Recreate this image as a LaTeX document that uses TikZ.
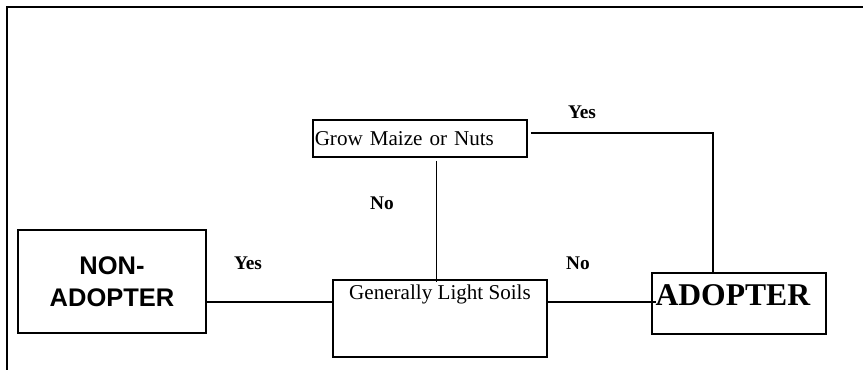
\documentclass[tikz,border=0pt]{standalone}
\usepackage{fontspec}
\setmainfont{Liberation Serif}
\newfontfamily\arialfont{Liberation Sans}
\begin{document}
\begin{tikzpicture}[line width=1.1pt,
  box/.style={draw, inner sep=0pt},
  answer/.style={font=\bfseries\fontsize{11}{13}\selectfont}]
\useasboundingbox (0,0) rectangle (17.26,7.4);
\draw (17.26,7.26) -- (0.14,7.26) -- (0.14,0);
% boxes
\node [box, minimum width=3.76cm, minimum height=2.06cm, align=center,
  font=\arialfont\bfseries\fontsize{14.5}{18}\selectfont] (non) at (2.24,1.77) {NON-\\ADOPTER};
\node [box, minimum width=4.28cm, minimum height=1.54cm,
  label={[anchor=north, inner sep=3pt, font=\fontsize{12}{14}\selectfont]north:Generally Light Soils}] (soils) at (8.8,1.03) {};
\node [box, minimum width=3.48cm, minimum height=1.22cm,
  label={[anchor=west, inner sep=2pt, yshift=0.17cm, font=\bfseries\fontsize{18}{21}\selectfont]west:ADOPTER}] (adopt) at (14.78,1.33) {};
\node [box, minimum width=4.28cm, minimum height=0.74cm, text width=4.28cm-2pt, inner xsep=1pt,
  align=left, font=\fontsize{12}{14}\selectfont] (grow) at (8.4,4.63) {Grow Maize or Nuts};
% connectors
\coordinate (mid) at (0,1.36);
\coordinate (drop) at (8.73,0);
\coordinate (turn) at (14.26,4.74);
\draw (non.east |- mid) -- (soils.west |- mid);
\draw (soils.east |- mid) -- ([xshift=0.1cm]adopt.west |- mid);
\draw ([yshift=-0.06cm]grow.south -| drop) -- ([yshift=-0.06cm]soils.north -| drop);
\draw ([xshift=0.06cm]grow.east |- turn) -- (turn) -- (turn |- adopt.north);
% answers
\node [answer] (yes1) at (11.64,5.16) {Yes};
\node [answer] (no1) at (7.64,3.34) {No};
\node [answer] (yes2) at (4.96,2.14) {Yes};
\node [answer] (no2) at (11.56,2.14) {No};
\end{tikzpicture}
\end{document}
